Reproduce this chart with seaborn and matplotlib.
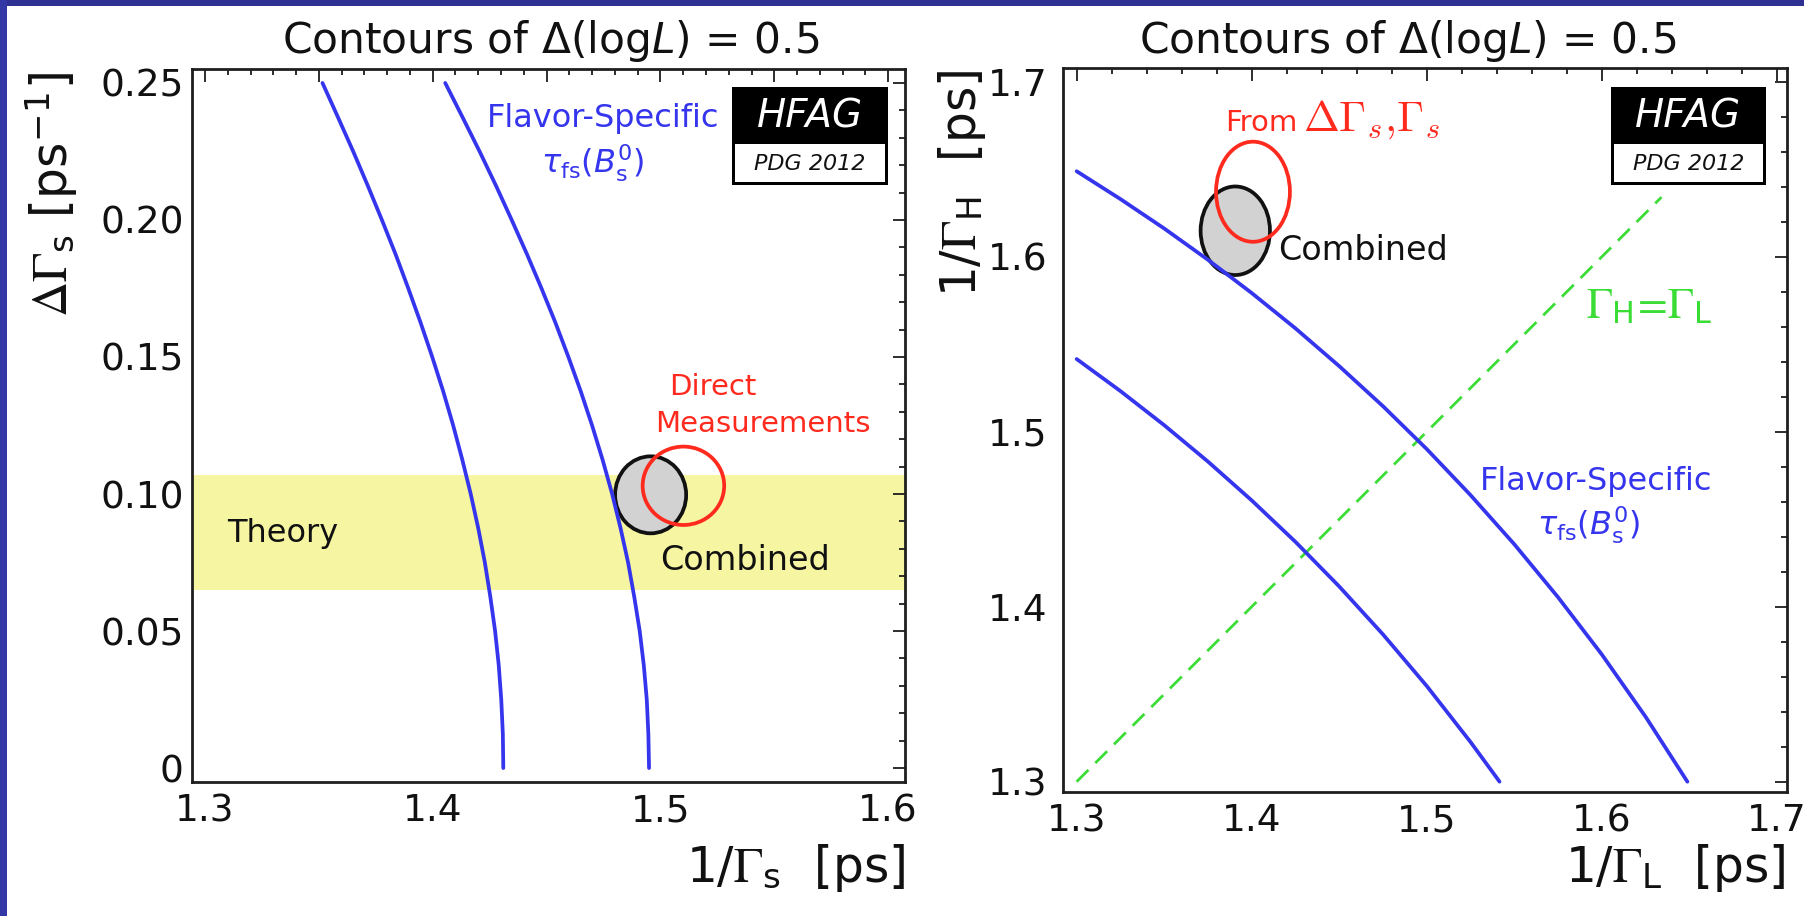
import matplotlib
matplotlib.use("Agg")
import matplotlib.pyplot as plt
import numpy as np
import pandas as pd
import seaborn as sns
from matplotlib.patches import Ellipse, Rectangle
from matplotlib.ticker import MultipleLocator, FuncFormatter

# ---------------- data ----------------
# Left panel: flavour-specific lifetime contours in (1/Gamma_s, DeltaGamma_s)
dgamma_s = [0.0, 0.0125, 0.025, 0.0375, 0.05, 0.0625, 0.075, 0.0875, 0.10,
            0.1125, 0.125, 0.1375, 0.15, 0.1625, 0.175, 0.1875, 0.20, 0.2125,
            0.225, 0.2375, 0.25]
fs_low_inv_gamma_s = [1.4310, 1.4308, 1.4301, 1.4290, 1.4274, 1.4253, 1.4229,
                      1.4200, 1.4167, 1.4130, 1.4090, 1.4046, 1.3998, 1.3947,
                      1.3893, 1.3837, 1.3777, 1.3715, 1.3651, 1.3584, 1.3516]
fs_high_inv_gamma_s = [1.4950, 1.4947, 1.4940, 1.4927, 1.4909, 1.4885, 1.4858,
                       1.4825, 1.4788, 1.4746, 1.4700, 1.4650, 1.4596, 1.4539,
                       1.4478, 1.4414, 1.4347, 1.4278, 1.4206, 1.4131, 1.4055]

# Theory band for DeltaGamma_s
theory_band = [0.065, 0.107]

# Likelihood contours (centre x, centre y, full width, full height)
combined_left = [1.4957, 0.0997, 0.0312, 0.0281]
direct_left = [1.5101, 0.1030, 0.0358, 0.0286]

# Right panel: flavour-specific contours in (1/Gamma_L, 1/Gamma_H)
fs_low_inv_gamma_L = [1.300, 1.325, 1.350, 1.375, 1.400, 1.425, 1.450, 1.475,
                      1.500, 1.525, 1.540, 1.5415]
fs_low_inv_gamma_H = [1.5415, 1.5232, 1.5037, 1.4829, 1.4607, 1.4370, 1.4115,
                      1.3841, 1.3546, 1.3226, 1.3021, 1.3000]
fs_high_inv_gamma_L = [1.300, 1.325, 1.350, 1.375, 1.400, 1.425, 1.450, 1.475,
                       1.500, 1.525, 1.550, 1.575, 1.600, 1.625, 1.6488]
fs_high_inv_gamma_H = [1.6488, 1.6329, 1.6161, 1.5982, 1.5792, 1.5590, 1.5374,
                       1.5145, 1.4900, 1.4637, 1.4356, 1.4053, 1.3726, 1.3370,
                       1.3000]
equal_widths = [1.300, 1.634]

combined_right = [1.3906, 1.6148, 0.0396, 0.0506]
from_dgamma_right = [1.4007, 1.6371, 0.0422, 0.0572]

# ---------------- style ----------------
sns.set_theme(style="white")
plt.rcParams["font.family"] = ["DejaVu Sans"]
plt.rcParams["mathtext.fontset"] = "stix"

BLUE = "#3535ee"
RED = "#ff2a1e"
GREEN = "#3cdc36"
YELLOW = "#f5f5a2"
GREY = "#d2d2d2"
INK = "#1e1e1e"

W, H = 1804, 916


def fx(px):
    return px / W


def fy(py):
    return 1 - py / H


fig = plt.figure(figsize=(W / 100, H / 100), dpi=100)
fig.patch.set_facecolor("white")

# slide frame strips along the top and left edges
fig.patches.append(Rectangle((0, fy(6)), 1, 6 / H, transform=fig.transFigure,
                             facecolor="#2e3192", edgecolor="none", zorder=0))
fig.patches.append(Rectangle((0, 0), 7 / W, 1, transform=fig.transFigure,
                             facecolor="#3438a6", edgecolor="none", zorder=0))

ax1 = fig.add_axes([fx(192), fy(782), 713 / W, 713 / H])
ax2 = fig.add_axes([fx(1063), fy(792), 724 / W, 724 / H])

for ax in (ax1, ax2):
    ax.set_facecolor("white")
    for sp in ax.spines.values():
        sp.set_linewidth(2.0)
        sp.set_color(INK)
    ax.tick_params(which="both", direction="in", top=True, right=True,
                   color=INK, width=1.3, labelsize=27, labelcolor="#111111")
    ax.tick_params(which="major", length=9)
    ax.tick_params(which="minor", length=4.5)

# ---------------- left panel ----------------
ax1.set_xlim(1.2943, 1.6074)
ax1.set_ylim(-0.0051, 0.2551)
ax1.xaxis.set_major_locator(MultipleLocator(0.05))
ax1.xaxis.set_minor_locator(MultipleLocator(0.01))
ax1.yaxis.set_major_locator(MultipleLocator(0.05))
ax1.yaxis.set_minor_locator(MultipleLocator(0.01))
ax1.xaxis.set_major_formatter(FuncFormatter(
    lambda v, p: f"{v:.1f}" if abs(v * 10 - round(v * 10)) < 1e-6 else ""))
ax1.yaxis.set_major_formatter(FuncFormatter(
    lambda v, p: "0" if abs(v) < 1e-9 else f"{v:.2f}"))
ax1.tick_params(axis="y", pad=6)
ax1.tick_params(axis="x", pad=8)

ax1.axhspan(theory_band[0], theory_band[1], color=YELLOW, zorder=0.5, lw=0)

left_df = pd.DataFrame({"dgamma": dgamma_s, "low": fs_low_inv_gamma_s,
                        "high": fs_high_inv_gamma_s})
for col in ("low", "high"):
    sns.lineplot(data=left_df, x=col, y="dgamma", sort=False, estimator=None,
                 color=BLUE, linewidth=2.7, ax=ax1, zorder=4)

ax1.add_patch(Ellipse((combined_left[0], combined_left[1]), combined_left[2],
                      combined_left[3], facecolor=GREY, edgecolor="#111111",
                      linewidth=2.7, zorder=2))
ax1.add_patch(Ellipse((direct_left[0], direct_left[1]), direct_left[2],
                      direct_left[3], facecolor="none", edgecolor=RED,
                      linewidth=2.7, zorder=3))

ax1.set_xlabel("")
ax1.set_ylabel("")

ax1.text(1.3343, 0.0825, "Theory", fontsize=23, color="#111111",
         ha="center", va="baseline", zorder=5)
ax1.text(1.5372, 0.0723, "Combined", fontsize=24, color="#111111",
         ha="center", va="baseline", zorder=5)
ax1.text(1.5231, 0.1361, "Direct", fontsize=21, color=RED,
         ha="center", va="baseline", zorder=5)
ax1.text(1.5451, 0.1226, "Measurements", fontsize=21, color=RED,
         ha="center", va="baseline", zorder=5)
ax1.text(1.4748, 0.2339, "Flavor-Specific", fontsize=23, color=BLUE,
         ha="center", va="baseline", zorder=5)
ax1.text(1.4704, 0.2172, r"$\tau_{\mathsf{fs}}(B^{0}_{\mathsf{s}})$",
         fontsize=23, color=BLUE, ha="center", va="baseline", zorder=5,
         math_fontfamily="dejavusans")

# ---------------- right panel ----------------
ax2.set_xlim(1.2922, 1.7057)
ax2.set_ylim(1.2941, 1.7078)
for axis in (ax2.xaxis, ax2.yaxis):
    axis.set_major_locator(MultipleLocator(0.1))
    axis.set_minor_locator(MultipleLocator(0.02))
    axis.set_major_formatter(FuncFormatter(lambda v, p: f"{v:.1f}"))
ax2.tick_params(axis="y", pad=11)
ax2.tick_params(axis="x", pad=8)

right_low = pd.DataFrame({"L": fs_low_inv_gamma_L, "H": fs_low_inv_gamma_H})
right_high = pd.DataFrame({"L": fs_high_inv_gamma_L, "H": fs_high_inv_gamma_H})
for df in (right_low, right_high):
    sns.lineplot(data=df, x="L", y="H", sort=False, estimator=None,
                 color=BLUE, linewidth=2.7, ax=ax2, zorder=4)
diag = pd.DataFrame({"L": equal_widths, "H": equal_widths})
sns.lineplot(data=diag, x="L", y="H", sort=False, estimator=None,
             color=GREEN, linewidth=2.0, ax=ax2, zorder=3)
ax2.lines[-1].set_dashes([6, 3.5])

ax2.add_patch(Ellipse((combined_right[0], combined_right[1]), combined_right[2],
                      combined_right[3], facecolor=GREY, edgecolor="#111111",
                      linewidth=2.7, zorder=2))
ax2.add_patch(Ellipse((from_dgamma_right[0], from_dgamma_right[1]),
                      from_dgamma_right[2], from_dgamma_right[3],
                      facecolor="none", edgecolor=RED, linewidth=2.7, zorder=3))

ax2.set_xlabel("")
ax2.set_ylabel("")

ax2.text(1.4151, 1.5981, "Combined", fontsize=24, color="#111111",
         ha="left", va="baseline", zorder=5)
ax2.text(1.3847, 1.6718, "From", fontsize=21, color=RED,
         ha="left", va="baseline", zorder=5)
ax2.text(1.4290, 1.6718, r"$\Delta\Gamma_s{,}\Gamma_s$", fontsize=31, color=RED,
         ha="left", va="baseline", zorder=5, math_fontfamily="cm")
ax2.text(1.591, 1.565, r"$\Gamma_{\mathregular{H}}\!=\!\Gamma_{\mathregular{L}}$",
         fontsize=31, color=GREEN, ha="left", va="baseline", zorder=5,
         math_fontfamily="stix")
ax2.text(1.5967, 1.4667, "Flavor-Specific", fontsize=23, color=BLUE,
         ha="center", va="baseline", zorder=5)
ax2.text(1.5922, 1.441, r"$\tau_{\mathsf{fs}}(B^{0}_{\mathsf{s}})$",
         fontsize=23, color=BLUE, ha="center", va="baseline", zorder=5,
         math_fontfamily="dejavusans")


# ---------------- HFAG logo boxes ----------------
def hfag_box(left_px, right_px):
    top, mid, bottom = 87, 144, 185
    fig.patches.append(Rectangle((fx(left_px), fy(bottom)),
                                 (right_px - left_px) / W, (bottom - top) / H,
                                 transform=fig.transFigure, facecolor="black",
                                 edgecolor="none", zorder=5))
    fig.patches.append(Rectangle((fx(left_px + 3), fy(bottom - 3)),
                                 (right_px - left_px - 6) / W,
                                 (bottom - 3 - mid) / H,
                                 transform=fig.transFigure, facecolor="white",
                                 edgecolor="none", zorder=6))
    cx = fx((left_px + right_px) / 2)
    fig.text(cx, fy(116), "HFAG", color="white", fontsize=28,
             fontstyle="italic", ha="center", va="center", zorder=7)
    fig.text(cx, fy(164), "PDG 2012", color="#111111", fontsize=16,
             fontstyle="italic", ha="center", va="center", zorder=7)


hfag_box(732, 888)
hfag_box(1611, 1766)

# ---------------- titles and axis labels ----------------
title = r"Contours of Δ(log$L$) = 0.5"
fig.text(fx(551), fy(53), title, fontsize=30.5, ha="center", va="baseline",
         color="#111111", math_fontfamily="dejavusans")
fig.text(fx(1408), fy(53), title, fontsize=30.5, ha="center", va="baseline",
         color="#111111", math_fontfamily="dejavusans")

fig.text(fx(905), fy(882), r"1/$\Gamma_{\mathregular{s}}$  [ps]", fontsize=35,
         ha="right", va="baseline", color="#111111")
fig.text(fx(1786), fy(882), r"1/$\Gamma_{\mathregular{L}}$  [ps]", fontsize=35,
         ha="right", va="baseline", color="#111111")
fig.text(fx(52), fy(72),
         r"$\Delta\Gamma_{\mathregular{s}}$ [ps$^{\mathregular{-1}}$]",
         fontsize=35, rotation=90, ha="center", va="top", color="#111111")
fig.text(fx(962), fy(70), r"1/$\Gamma_{\mathregular{H}}$  [ps]", fontsize=35,
         rotation=90, ha="center", va="top", color="#111111")

fig.savefig("out.png", dpi=100, facecolor=fig.get_facecolor())
